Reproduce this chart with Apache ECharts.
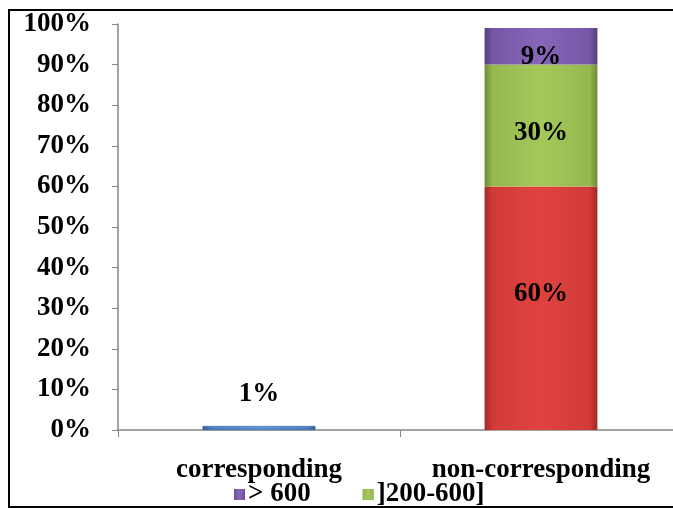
<!DOCTYPE html>
<html>
<head>
<meta charset="utf-8">
<script src="https://cdn.jsdelivr.net/npm/echarts@6/dist/echarts.min.js"></script>
<style>
  html, body { margin: 0; padding: 0; background: #fff; overflow: hidden; width: 673px; height: 508px; }
  #chart { width: 690px; height: 508px; }
</style>
</head>
<body>
<div id="chart"></div>
<script>
// Categories on the x axis
const categories = ['corresponding', 'non-corresponding'];

// Stacked shares (%) per category
const seriesNames = ['= 0', '< 200', ']200-600]', '> 600'];
const blueValues = [1, null];
const redValues = [null, 60];
const greenValues = [null, 30];
const purpleValues = [null, 9];

// Y axis ticks
const yTicks = [0, 10, 20, 30, 40, 50, 60, 70, 80, 90, 100];

const serif = 'Liberation Serif, Times New Roman, serif';
const fs = 27;

function bevel(light, mid, dark) {
  return {
    type: 'linear', x: 0, y: 0, x2: 1, y2: 0,
    colorStops: [
      { offset: 0, color: dark },
      { offset: 0.07, color: mid },
      { offset: 0.5, color: light },
      { offset: 0.93, color: mid },
      { offset: 1, color: dark }
    ]
  };
}

const chart = echarts.init(document.getElementById('chart'), null, { renderer: 'canvas' });

const labelStyle = {
  show: true,
  fontFamily: serif,
  fontWeight: 'bold',
  fontSize: fs,
  color: '#000',
  formatter: p => p.value + '%'
};

chart.setOption({
  animation: false,
  backgroundColor: '#fff',
  graphic: [{
    type: 'rect',
    shape: { x: 9, y: 10, width: 680, height: 497 },
    style: { fill: 'none', stroke: '#000', lineWidth: 2 },
    z: 100
  }],
  grid: { left: 118, top: 24, width: 564, bottom: 78, containLabel: false },
  legend: {
    data: [seriesNames[3], seriesNames[2]],
    left: 229,
    top: 476,
    itemWidth: 11,
    itemHeight: 11,
    itemGap: 52,
    icon: 'rect',
    textStyle: { fontFamily: serif, fontWeight: 'bold', fontSize: fs, color: '#000', padding: [0, 0, 0, -2] }
  },
  xAxis: {
    type: 'category',
    data: categories,
    axisLine: { lineStyle: { color: '#868686', width: 1.5 } },
    axisTick: { show: true, length: 7, lineStyle: { color: '#868686' } },
    axisLabel: { interval: 0, hideOverlap: false, margin: 27, fontFamily: serif, fontWeight: 'bold', fontSize: fs, color: '#000' }
  },
  yAxis: {
    type: 'value',
    min: yTicks[0],
    max: yTicks[yTicks.length - 1],
    interval: yTicks[1] - yTicks[0],
    axisLine: { show: true, lineStyle: { color: '#868686', width: 1.5 } },
    axisTick: { show: true, length: 6, lineStyle: { color: '#868686' } },
    splitLine: { show: false },
    axisLabel: { margin: 27, fontFamily: serif, fontWeight: 'bold', fontSize: fs, color: '#000', formatter: '{value}%' }
  },
  series: [
    {
      name: seriesNames[0], type: 'bar', stack: 'total', barWidth: '40%', data: blueValues,
      itemStyle: { color: bevel('#5b93d8', '#4a7fc4', '#2f5f9a'), borderColor: '#2f5f9a', borderWidth: 0.5 },
      label: Object.assign({}, labelStyle, { position: 'top', distance: 18 })
    },
    {
      name: seriesNames[1], type: 'bar', stack: 'total', barWidth: '40%', data: redValues,
      itemStyle: { color: bevel('#e0433f', '#d13b37', '#9f2a27') },
      label: Object.assign({}, labelStyle, { position: 'inside', offset: [0, -14] })
    },
    {
      name: seriesNames[2], type: 'bar', stack: 'total', barWidth: '40%', data: greenValues,
      itemStyle: { color: bevel('#a4c85a', '#95b94e', '#6d8a35') },
      label: Object.assign({}, labelStyle, { position: 'inside', offset: [0, 8] })
    },
    {
      name: seriesNames[3], type: 'bar', stack: 'total', barWidth: '40%', data: purpleValues,
      itemStyle: { color: bevel('#8666b8', '#7657a6', '#553d7d') },
      label: Object.assign({}, labelStyle, { position: 'inside', offset: [0, 11] })
    }
  ]
});
</script>
</body>
</html>
